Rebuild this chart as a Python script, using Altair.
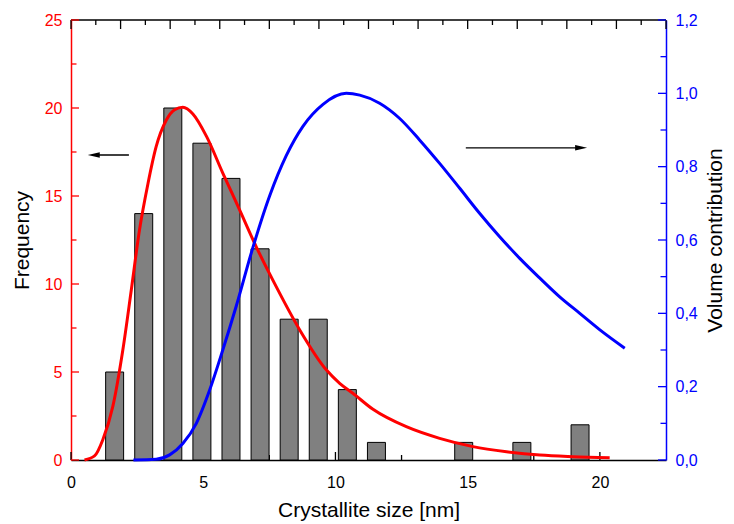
import altair as alt
import pandas as pd

# ---- data ----
bin_centers = [1.65, 2.75, 3.85, 4.95, 6.05, 7.15, 8.25, 9.35, 10.45, 11.55, 14.85, 17.05, 19.25]
counts = [5, 14, 20, 18, 16, 12, 8, 8, 4, 1, 1, 1, 2]
bar_half_width = 0.34

red_x = [0.51, 0.89, 1.20, 1.58, 1.96, 2.28, 2.59, 2.91, 3.22, 3.60, 3.92, 4.23, 4.61, 5.12, 5.74,
         6.38, 7.01, 7.76, 8.65, 9.66, 10.16, 10.66, 11.42, 12.68, 13.94, 15.20, 16.47, 17.73, 18.99, 20.37]
red_y = [0.0, 0.23, 1.14, 3.03, 6.25, 9.66, 13.07, 15.7, 17.8, 19.3, 19.9, 20.04, 19.66, 18.4, 16.3,
         14.2, 12.1, 9.85, 7.39, 5.11, 4.36, 3.79, 2.88, 1.89, 1.23, 0.76, 0.47, 0.28, 0.19, 0.13]

blue_x = [2.36, 3.22, 3.73, 4.23, 4.74, 5.24, 5.74, 6.25, 6.88, 7.51, 8.14, 8.77, 9.53, 10.41, 10.92,
          11.67, 12.42, 13.18, 13.94, 14.70, 15.45, 16.21, 16.97, 17.73, 18.48, 19.24, 20.0, 20.94]
blue_y = [0.0, 0.002, 0.014, 0.045, 0.10, 0.19, 0.30, 0.42, 0.58, 0.72, 0.83, 0.91, 0.97, 1.0, 0.995,
          0.973, 0.932, 0.873, 0.809, 0.741, 0.673, 0.609, 0.55, 0.496, 0.445, 0.40, 0.355, 0.305]

# arrows (data coordinates, left axis)
arrow_left_x = [2.19, 0.86]
arrow_left_y = [17.33, 17.33]
arrow_right_x = [14.93, 19.29]
arrow_right_y = [17.74, 17.74]

# axis tick values
x_labels = [0, 5, 10, 15, 20]
x_minor = [2.5, 7.5, 12.5, 17.5]
top_major = [1.875 * i for i in range(13)]
top_minor = [1.875 * i + 0.9375 for i in range(12)]
left_major = [0, 5, 10, 15, 20, 25]
left_minor = [2.5, 7.5, 12.5, 17.5, 22.5]
right_major = [0, 0.2, 0.4, 0.6, 0.8, 1.0, 1.2]
right_minor = [0.1, 0.3, 0.5, 0.7, 0.9, 1.1]

W, H = 595, 440
RED = "#ff0000"
BLUE = "#0000ff"

bars_df = pd.DataFrame({"c": bin_centers, "n": counts})
red_df = pd.DataFrame({"x": red_x, "y": red_y})
blue_df = pd.DataFrame({"x": blue_x, "y": blue_y})

x_scale = alt.Scale(domain=[0, 22.5], nice=False, zero=False, padding=0)
yl_scale = alt.Scale(domain=[0, 25], nice=False, padding=0)
yr_scale = alt.Scale(domain=[0, 1.2], nice=False, padding=0)

x_axis = alt.Axis(values=x_labels, ticks=False, tickSize=0, domainColor="black", domainWidth=1.5,
                  labelColor="black", labelFontSize=16, labelPadding=14, labelFlush=False,
                  title="Crystallite size [nm]", titleFontSize=21, titleFontWeight="normal",
                  titleColor="black", titlePadding=9, grid=False)
yl_axis = alt.Axis(values=left_major, ticks=False, tickSize=0, domainColor=RED, domainWidth=1.5,
                   labelColor=RED, labelFontSize=16, labelPadding=9, labelFlush=False,
                   title="Frequency", titleFontSize=21, titleFontWeight="normal", titleColor="black",
                   titlePadding=12, grid=False, orient="left")
yr_axis = alt.Axis(values=right_major, ticks=False, tickSize=0, domainColor=BLUE, domainWidth=1.5,
                   labelColor=BLUE, labelFontSize=16, labelPadding=9, labelFlush=False,
                   labelExpr="replace(format(datum.value, '.1f'), '.', ',')",
                   title="Volume contribution", titleFontSize=21, titleFontWeight="normal",
                   titleColor="black", titlePadding=7, titleAngle=270, titleBaseline="top",
                   grid=False, orient="right")

X = lambda f: alt.X(f, scale=x_scale, axis=x_axis)
YL = lambda f: alt.Y(f, scale=yl_scale, axis=yl_axis)
YR = lambda f: alt.Y(f, scale=yr_scale, axis=yr_axis)

# inward ticks
bottom_major = alt.Chart(pd.DataFrame({"v": x_labels})).mark_rule(color="black", strokeWidth=1.3).encode(
    x=X("v:Q"), y=alt.value(H), y2=alt.value(H - 8))
bottom_minor = alt.Chart(pd.DataFrame({"v": x_minor})).mark_rule(color="black", strokeWidth=1.3).encode(
    x=X("v:Q"), y=alt.value(H), y2=alt.value(H - 5))
top_line = alt.Chart(pd.DataFrame({"v": [0]})).mark_rule(color="black", strokeWidth=1.5).encode(
    x=alt.value(0), x2=alt.value(W), y=alt.value(0))
top_maj = alt.Chart(pd.DataFrame({"v": top_major})).mark_rule(color="black", strokeWidth=1.3).encode(
    x=X("v:Q"), y=alt.value(0), y2=alt.value(9))
top_min = alt.Chart(pd.DataFrame({"v": top_minor})).mark_rule(color="black", strokeWidth=1.3).encode(
    x=X("v:Q"), y=alt.value(0), y2=alt.value(5))
left_maj = alt.Chart(pd.DataFrame({"v": left_major})).mark_rule(color=RED, strokeWidth=1.3).encode(
    y=YL("v:Q"), x=alt.value(0), x2=alt.value(8))
left_min = alt.Chart(pd.DataFrame({"v": left_minor})).mark_rule(color=RED, strokeWidth=1.3).encode(
    y=YL("v:Q"), x=alt.value(0), x2=alt.value(5.5))
right_maj = alt.Chart(pd.DataFrame({"v": right_major})).mark_rule(color=BLUE, strokeWidth=1.3).encode(
    y=YR("v:Q"), x=alt.value(W - 8), x2=alt.value(W))
right_min = alt.Chart(pd.DataFrame({"v": right_minor})).mark_rule(color=BLUE, strokeWidth=1.3).encode(
    y=YR("v:Q"), x=alt.value(W - 5.5), x2=alt.value(W))

bars = alt.Chart(bars_df).transform_calculate(
    lo=f"datum.c - {bar_half_width}", hi=f"datum.c + {bar_half_width}", base="0"
).mark_bar(color="#808080", stroke="black", strokeWidth=1).encode(
    x=X("lo:Q"), x2="hi:Q", y=YL("n:Q"), y2="base:Q")

red_line = alt.Chart(red_df).mark_line(color=RED, strokeWidth=3, interpolate="monotone").encode(
    x=X("x:Q"), y=YL("y:Q"))

arrow_l_line = alt.Chart(pd.DataFrame({"x": arrow_left_x, "y": arrow_left_y})).mark_line(
    color="black", strokeWidth=1.3).encode(x=X("x:Q"), y=YL("y:Q"))
arrow_r_line = alt.Chart(pd.DataFrame({"x": arrow_right_x, "y": arrow_right_y})).mark_line(
    color="black", strokeWidth=1.3).encode(x=X("x:Q"), y=YL("y:Q"))
arrow_l_head = alt.Chart(pd.DataFrame({"x": arrow_left_x[-1:], "y": arrow_left_y[-1:]})).mark_point(
    shape="M-1,0L1,-0.45L1,0.45Z", filled=True, size=144, color="black", opacity=1).encode(
    x=X("x:Q"), y=YL("y:Q"))
arrow_r_head = alt.Chart(pd.DataFrame({"x": arrow_right_x[-1:], "y": arrow_right_y[-1:]})).mark_point(
    shape="M1,0L-1,-0.45L-1,0.45Z", filled=True, size=144, color="black", opacity=1).encode(
    x=X("x:Q"), y=YL("y:Q"))

left_group = alt.layer(bottom_major, bottom_minor, top_line, top_maj, top_min, left_maj, left_min,
                       bars, red_line, arrow_l_line, arrow_r_line, arrow_l_head, arrow_r_head)

blue_line = alt.Chart(blue_df).mark_line(color=BLUE, strokeWidth=3, interpolate="monotone").encode(
    x=X("x:Q"), y=YR("y:Q"))
right_group = alt.layer(right_maj, right_min, blue_line)

chart = alt.layer(left_group, right_group).resolve_scale(y="independent").properties(
    width=W, height=H,
    autosize=alt.AutoSizeParams(type="none"),
    padding={"left": 63, "top": 12, "right": 60, "bottom": 64},
).configure(font="Liberation Sans").configure_view(stroke=None)

chart.save("out.html", embed_options={"renderer": "svg", "actions": False})
